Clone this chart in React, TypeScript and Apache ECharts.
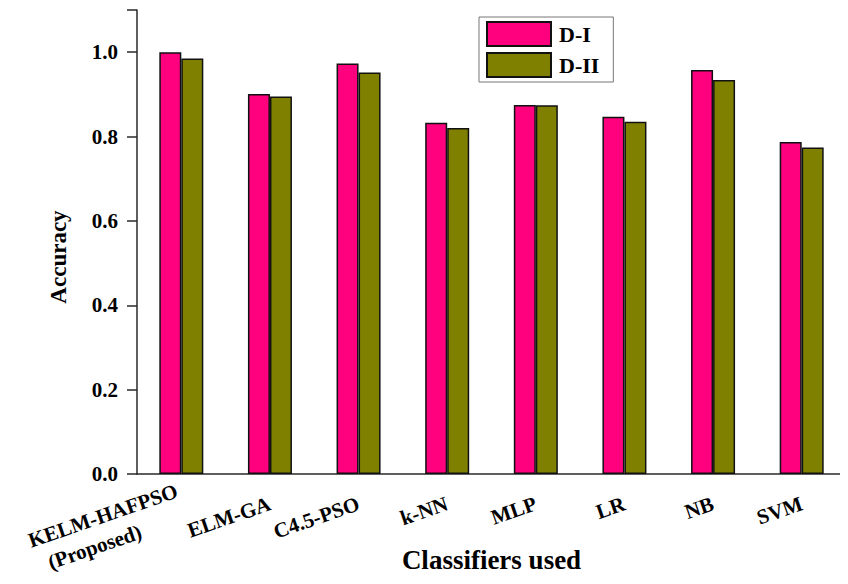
import React, { useEffect, useRef } from "react";
import * as echarts from "echarts";

const classifiers = [
  "KELM-HAFPSO\n(Proposed)",
  "ELM-GA",
  "C4.5-PSO",
  "k-NN",
  "MLP",
  "LR",
  "NB",
  "SVM",
];
const seriesNames = ["D-I", "D-II"];
const accuracyD1 = [1.0, 0.901, 0.973, 0.833, 0.875, 0.847, 0.958, 0.787];
const accuracyD2 = [0.985, 0.895, 0.952, 0.82, 0.874, 0.835, 0.934, 0.774];
const yTicks = [0, 0.2, 0.4, 0.6, 0.8, 1.0];

const FONT = "'Liberation Serif', 'Times New Roman', serif";
const AXIS_COLOR = "#2a2a2a";

export default function App() {
  const ref = useRef<HTMLDivElement>(null);

  useEffect(() => {
    if (!ref.current) return;
    const chart = echarts.init(ref.current, undefined, { renderer: "svg" });
    const barStyle = (color: string) => ({
      color,
      borderColor: "#111",
      borderWidth: 1.5,
    });
    const labelText = {
      fontFamily: FONT,
      fontWeight: "bold",
      fontSize: 21,
      color: "#000",
      align: "center",
      lineHeight: 27,
    };
    chart.setOption({
      animation: false,
      backgroundColor: "#fff",
      grid: {
        left: 137,
        right: 2,
        top: 10,
        bottom: 110,
        containLabel: false,
        outerBoundsMode: "none",
      },
      legend: {
        orient: "vertical",
        left: 479,
        top: 17,
        data: seriesNames,
        itemWidth: 64,
        itemHeight: 24,
        itemGap: 5,
        padding: [4, 14, 4, 7],
        borderColor: "#777",
        borderWidth: 1,
        icon: "rect",
        textStyle: {
          fontFamily: FONT,
          fontWeight: "bold",
          fontSize: 22,
          color: "#000",
          padding: [0, 0, 0, 3],
        },
      },
      xAxis: {
        type: "category",
        data: classifiers,
        name: "Classifiers used",
        nameLocation: "middle",
        nameGap: 72,
        nameMoveOverlap: false,
        nameTextStyle: {
          fontFamily: FONT,
          fontWeight: "bold",
          fontSize: 27,
          color: "#000",
        },
        axisLine: { lineStyle: { color: AXIS_COLOR, width: 1.5 } },
        axisTick: {
          alignWithLabel: true,
          length: 9,
          lineStyle: { color: AXIS_COLOR, width: 1.5 },
        },
        axisLabel: {
          rotate: 19,
          margin: 29,
          interval: 0,
          hideOverlap: false,
          formatter: (v: string) => {
            const lines = v.split("\n");
            // second line of a two-line label is nudged left under the first
            return lines
              .map((s, i) => (i === 0 ? `{t|${s}}` : `{p|${s}}`))
              .join("\n");
          },
          rich: {
            t: labelText,
            p: { ...labelText, padding: [0, 36, 0, 0] },
          },
        },
      },
      yAxis: {
        type: "value",
        min: 0,
        max: 1.1,
        interval: 0.2,
        name: "Accuracy",
        nameLocation: "middle",
        nameGap: 67,
        nameRotate: 90,
        nameMoveOverlap: false,
        nameTextStyle: {
          fontFamily: FONT,
          fontWeight: "bold",
          fontSize: 23,
          color: "#000",
          padding: [0, 30, 0, 0],
        },
        splitLine: { show: false },
        axisLine: { show: true, lineStyle: { color: AXIS_COLOR, width: 1.5 } },
        axisTick: {
          show: true,
          length: 10,
          lineStyle: { color: AXIS_COLOR, width: 1.5 },
        },
        axisLabel: {
          margin: 19,
          fontFamily: FONT,
          fontWeight: "bold",
          fontSize: 21,
          color: "#000",
          formatter: (v: number) =>
            yTicks.some((t) => Math.abs(t - v) < 1e-9) ? v.toFixed(1) : "",
        },
      },
      series: [
        {
          name: seriesNames[0],
          type: "bar",
          data: accuracyD1,
          barWidth: 22,
          barGap: "0%",
          itemStyle: barStyle("#ff007f"),
        },
        {
          name: seriesNames[1],
          type: "bar",
          data: accuracyD2,
          barWidth: 22,
          barGap: "0%",
          itemStyle: barStyle("#808000"),
        },
      ],
    });
    return () => chart.dispose();
  }, []);

  return <div ref={ref} style={{ width: 848, height: 584, margin: -8 }} />;
}
